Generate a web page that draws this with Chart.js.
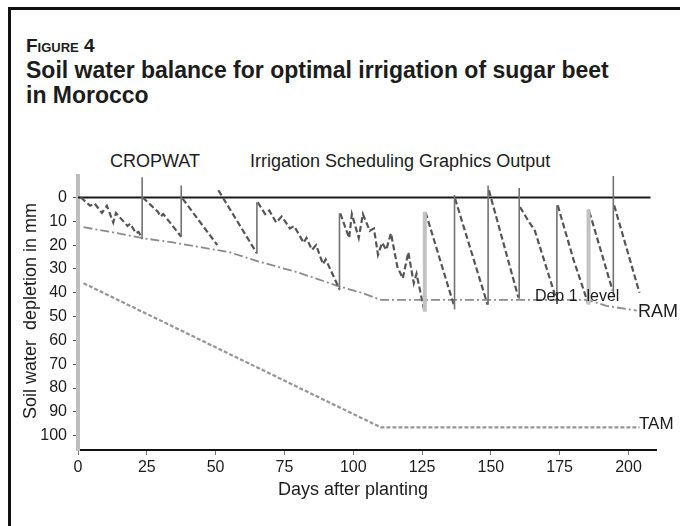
<!DOCTYPE html>
<html>
<head>
<meta charset="utf-8">
<script src="https://cdn.jsdelivr.net/npm/chart.js@4.4.1/dist/chart.umd.min.js"></script>
<style>
  html, body { margin: 0; padding: 0; background: #fff; }
  body { width: 680px; height: 526px; position: relative; overflow: hidden;
         font-family: "Liberation Sans", Arial, sans-serif; color: #1c1c1c; }
  .frame { position: absolute; left: 8px; top: 7px; width: 700px; height: 540px;
           border-left: 3px solid #111; border-top: 3px solid #111; }
  .fig { position: absolute; left: 26px; top: 36px; font-weight: bold; font-size: 19px;
         line-height: 19px; font-variant: small-caps; white-space: nowrap; }
  .title { position: absolute; left: 26px; top: 58px; font-weight: bold; font-size: 23px;
           line-height: 25px; white-space: nowrap; }
  .sub { position: absolute; top: 152px; font-size: 18px; line-height: 18px; white-space: nowrap; }
  canvas { position: absolute; left: 0; top: 0; }
</style>
</head>
<body>
<div class="frame"></div>
<div class="fig">Figure 4</div>
<div class="title">Soil water balance for optimal irrigation of sugar beet<br>in Morocco</div>
<div class="sub" style="left:110px">CROPWAT</div>
<div class="sub" style="left:250px">Irrigation Scheduling Graphics Output</div>
<canvas id="chart" width="680" height="526"></canvas>

<script>
// soil water depletion (mm) — sawtooth, null = break after an irrigation
const depDays = [
  1, 4.4, 6, 8.7, 10.5, 12.8, 13.8, 18, 19, 21, 22, 23.3, 23.3,
  23.5, 29, 30, 31, 37.5, 37.5,
  38, 50.6, 50.6,
  51, 65, 65,
  65.3, 68, 69.5, 72, 74, 77, 78.5, 82, 83, 85, 86.5, 89, 90, 95, 95,
  95.3, 98.5, 99.5, 102, 103.5, 106, 107.5, 109, 110.5, 112, 113.7, 116, 118, 120, 122, 123, 125.8, 125.8,
  126.3, 136.5, 136.5,
  137, 148.8, 148.8,
  149.3, 160, 160,
  160.6, 163.5, 166, 173.7, 173.7,
  174.3, 180, 185.2, 185.2,
  185.8, 194.2, 194.2,
  194.8, 204
];
const depMm = [
  0, 3.5, 2.5, 6.5, 3.5, 10.5, 6.5, 12, 11, 15, 14.5, 17, null,
  0, 6, 8, 7, 16.5, null,
  0.5, 20, null,
  -3, 23.5, null,
  2, 7, 5.5, 10.5, 8, 13, 12, 19, 17, 22, 20, 28, 26, 38.5, null,
  6.7, 17, 7, 17, 7, 14, 13, 24, 19, 22, 15, 29, 34, 23, 36, 32, 47.5, null,
  6.3, 45, null,
  0.5, 45, null,
  -3, 42, null,
  4, 9.6, 14, 42.5, null,
  3.3, 26, 44, null,
  6, 39, null,
  3.3, 40
];

// irrigation events
const irrDays   = [23.3, 37.5, 65, 95, 126, 136.8, 149, 160.3, 174, 185.5, 194.5];
const irrTop    = [-8.5, -5, 2, 6.7, 6, -1, -5, -4, 3.3, 5, -9];
const irrBottom = [17.5, 16.5, 23.5, 39, 48, 47, 45, 42.5, 43, 45, 41];

// readily available moisture
const ramDays = [2, 12, 23, 35, 45, 55, 66, 80, 94, 103, 110, 185, 192, 203];
const ramMm   = [12.5, 14.5, 17, 19, 21, 23, 27, 31.5, 37, 40, 43, 43, 45.5, 47.5];

// total available moisture
const tamDays = [2, 110, 204];
const tamMm   = [36, 96.5, 96.5];

const zeroDays = [-2, 208];
const zeroMm   = [0, 0];

const xTicks = [0, 25, 50, 75, 100, 125, 150, 175, 200];
const yTicks = [0, 10, 20, 30, 40, 50, 60, 70, 80, 90, 100];

const pts = (xs, ys) => xs.map((x, i) => ({ x, y: ys[i] }));
const FONT = '"Liberation Sans", Arial, sans-serif';

// the pale wide irrigation bars of the original
const wideIrr = [126, 185.5];

const irrSets = irrDays.map((d, i) => {
  const wide = wideIrr.includes(d);
  return {
    data: [{ x: d, y: irrTop[i] }, { x: d, y: irrBottom[i] }],
    showLine: true,
    borderColor: wide ? '#c2c2c2' : '#727272',
    borderWidth: wide ? 4 : 1.6
  };
});

const textPlugin = {
  id: 'texts',
  afterDraw(chart) {
    const { ctx, scales: { x, y } } = chart;
    ctx.save();
    ctx.fillStyle = '#1c1c1c';
    ctx.textBaseline = 'middle';

    // axis titles
    ctx.font = '18px ' + FONT;
    ctx.textAlign = 'center';
    ctx.fillText('Days after planting', 353, 490);
    ctx.save();
    ctx.translate(31, 311);
    ctx.rotate(-Math.PI / 2);
    ctx.fillText('Soil water  depletion in mm', 0, 0);
    ctx.restore();

    // line labels
    ctx.textAlign = 'left';
    ctx.font = '16px ' + FONT;
    ctx.fillText('Dep 1  level', x.getPixelForValue(166), y.getPixelForValue(41.5));
    ctx.font = '18px ' + FONT;
    ctx.fillText('RAM', x.getPixelForValue(203.5), y.getPixelForValue(48.3));
    ctx.font = '17px ' + FONT;
    ctx.fillText('TAM', x.getPixelForValue(203.8), y.getPixelForValue(95.4));
    ctx.restore();
  }
};

new Chart(document.getElementById('chart'), {
  type: 'scatter',
  data: {
    datasets: [
      ...irrSets,
      {
        data: pts(depDays, depMm),
        showLine: true,
        spanGaps: false,
        borderColor: '#555',
        borderWidth: 2.2,
        borderDash: [6, 3]
      },
      {
        data: pts(ramDays, ramMm),
        showLine: true,
        borderColor: '#8c8c8c',
        borderWidth: 1.8,
        borderDash: [9, 3, 2, 3]
      },
      {
        data: pts(tamDays, tamMm),
        showLine: true,
        borderColor: '#959595',
        borderWidth: 2.2,
        borderDash: [4, 2]
      },
      {
        data: pts(zeroDays, zeroMm),
        showLine: true,
        borderColor: '#1a1a1a',
        borderWidth: 2
      }
    ]
  },
  options: {
    responsive: false,
    animation: false,
    layout: { padding: { top: 176, right: 24, bottom: 0, left: 0 } },
    elements: { point: { radius: 0, hoverRadius: 0 }, line: { tension: 0 } },
    plugins: { legend: { display: false }, tooltip: { enabled: false } },
    scales: {
      x: {
        type: 'linear',
        min: 0, max: 210,
        afterBuildTicks: (s) => { s.ticks = xTicks.map(v => ({ value: v })); },
        afterFit: (s) => { s.height = 76; },
        grid: { drawOnChartArea: false, drawTicks: true, tickLength: 5, color: '#777' },
        border: { color: '#111', width: 2 },
        ticks: { color: '#1c1c1c', font: { family: FONT, size: 16 }, padding: 3, maxRotation: 0 }
      },
      y: {
        type: 'linear',
        reverse: true,
        min: -9, max: 106,
        afterBuildTicks: (s) => { s.ticks = yTicks.map(v => ({ value: v })); },
        afterFit: (s) => { s.width = 78; },
        grid: { drawOnChartArea: false, drawTicks: true, tickLength: 5, color: '#555' },
        border: { color: '#bdbdbd', width: 4 },
        ticks: { color: '#1c1c1c', font: { family: FONT, size: 16 }, padding: 6 }
      }
    }
  },
  plugins: [textPlugin]
});
</script>
</body>
</html>
